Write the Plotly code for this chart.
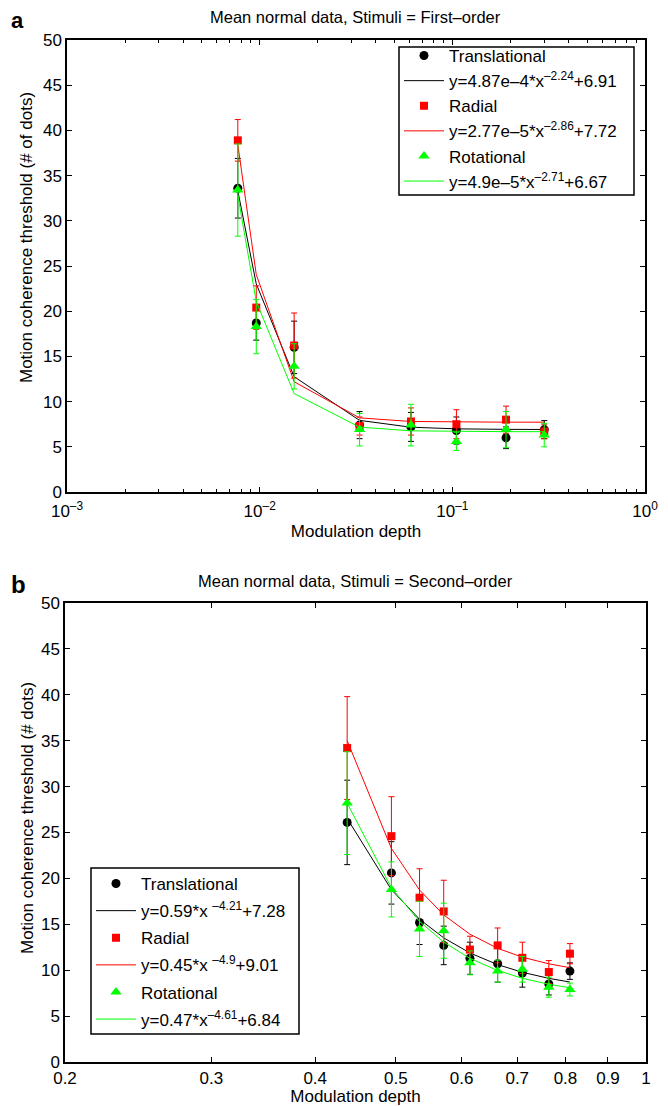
import plotly.graph_objects as go

# ---------------- Panel a: first-order ----------------
xa = [0.0077, 0.0096, 0.0151, 0.033, 0.061, 0.105, 0.19, 0.30]
a_trans = [33.6, 18.7, 16.0, 7.4, 7.2, 6.8, 6.0, 6.9]
a_trans_err = [3.3, 1.9, 2.9, 1.5, 1.6, 1.5, 1.2, 1.0]
a_rad = [38.9, 20.4, 16.2, 7.3, 7.8, 7.5, 8.0, 6.7]
a_rad_err = [2.3, 2.4, 3.6, 1.0, 1.5, 1.6, 1.5, 0.8]
a_rot = [33.4, 18.3, 13.9, 6.9, 7.4, 5.6, 6.9, 6.3]
a_rot_err = [5.1, 3.0, 2.5, 1.8, 2.3, 1.0, 2.0, 1.3]
# fit parameters y = p*x^q + r (from legend)
a_fit_trans = (4.87e-4, -2.24, 6.91)
a_fit_rad = (2.77e-5, -2.86, 7.72)
a_fit_rot = (4.9e-5, -2.71, 6.67)
a_fit_labels = ["y=4.87e–4*x<sup>–2.24</sup>+6.91",
                "y=2.77e–5*x<sup>–2.86</sup>+7.72",
                "y=4.9e–5*x<sup>–2.71</sup>+6.67"]
a_xticks = [0.001, 0.01, 0.1, 1]
a_xticktext = ["10<sup>–3</sup>", "10<sup>–2</sup>", "10<sup>–1</sup>", "10<sup>0</sup>"]
a_minor = [k * 10.0 ** e for e in (-3, -2, -1) for k in range(2, 10)]

# ---------------- Panel b: second-order ----------------
xb = [0.437, 0.494, 0.534, 0.571, 0.614, 0.663, 0.710, 0.764, 0.810]
b_trans = [26.1, 20.6, 15.2, 12.7, 11.3, 10.7, 9.7, 8.5, 9.9]
b_trans_err = [4.6, 3.4, 2.4, 2.1, 1.75, 2.0, 1.55, 1.2, 0.9]
b_rad = [34.2, 24.6, 17.9, 16.4, 12.25, 12.7, 11.35, 9.8, 11.8]
b_rad_err = [5.6, 4.3, 3.15, 3.4, 1.45, 1.9, 1.7, 1.25, 1.1]
b_rot = [28.2, 18.8, 14.5, 14.3, 10.8, 9.9, 10.1, 8.15, 7.9]
b_rot_err = [5.6, 3.0, 3.0, 3.0, 1.3, 1.2, 1.4, 1.1, 0.7]
b_fit_trans = (0.59, -4.21, 7.28)
b_fit_rad = (0.45, -4.9, 9.01)
b_fit_rot = (0.47, -4.61, 6.84)
b_fit_labels = ["y=0.59*x <sup>–4.21</sup>+7.28",
                "y=0.45*x <sup>–4.9</sup>+9.01",
                "y=0.47*x<sup>–4.61</sup>+6.84"]
b_xticks = [0.2, 0.3, 0.4, 0.5, 0.6, 0.7, 0.8, 0.9, 1]
b_xticktext = ["0.2", "0.3", "0.4", "0.5", "0.6", "0.7", "0.8", "0.9", "1"]

y_ticks = [0, 5, 10, 15, 20, 25, 30, 35, 40, 45, 50]
series_names = ["Translational", "Radial", "Rotational"]
colors = ["#000000", "#ff0000", "#00ff00"]
symbols = ["circle", "square", "triangle-up"]
msizes = [9, 8, 10]

FONT = "Liberation Sans, Arial, Helvetica, sans-serif"

# page has an 8px body margin; lay out in page pixels
OFF = 8
FW, FH = 668 - OFF, 1106 - OFF


def px(x):
    return (x - OFF) / FW


def py(y):
    return 1 - (y - OFF) / FH


def fit_curve(xs, p):
    return [p[0] * x ** p[1] + p[2] for x in xs]


fig = go.Figure()


def add_panel(xs, vals, errs, fits, labels, xref, yref, legend, tag):
    for i in range(3):
        fig.add_trace(go.Scatter(
            x=xs, y=vals[i], mode="markers", name=series_names[i],
            xaxis=xref, yaxis=yref, legend=legend, legendgroup=f"{tag}m{i}",
            marker=dict(color=colors[i], symbol=symbols[i], size=msizes[i],
                        line=dict(width=0)),
            error_y=dict(type="data", array=errs[i], visible=True,
                         color=colors[i], thickness=1, width=3),
        ))
        fig.add_trace(go.Scatter(
            x=xs, y=fit_curve(xs, fits[i]), mode="lines", name=labels[i],
            xaxis=xref, yaxis=yref, legend=legend, legendgroup=f"{tag}f{i}",
            line=dict(color=colors[i], width=1),
        ))


add_panel(xa, [a_trans, a_rad, a_rot], [a_trans_err, a_rad_err, a_rot_err],
          [a_fit_trans, a_fit_rad, a_fit_rot], a_fit_labels, "x", "y", "legend", "a")
add_panel(xb, [b_trans, b_rad, b_rot], [b_trans_err, b_rad_err, b_rot_err],
          [b_fit_trans, b_fit_rad, b_fit_rot], b_fit_labels, "x2", "y2", "legend2", "b")

axis_common = dict(showline=True, linecolor="black", linewidth=1.5, mirror="allticks",
                   ticks="inside", ticklen=5, tickcolor="black", showgrid=False,
                   zeroline=False, tickfont=dict(size=17, color="black", family=FONT),
                   automargin=False)

legend_common = dict(xanchor="left", yanchor="top", borderwidth=0,
                     bgcolor="rgba(0,0,0,0)", font=dict(size=17, family=FONT, color="black"),
                     itemwidth=40, traceorder="grouped")


def box(x0, y0, x1, y1):
    return dict(type="rect", xref="paper", yref="paper", x0=px(x0), x1=px(x1),
                y0=py(y1), y1=py(y0), line=dict(color="black", width=1.5),
                fillcolor="white", layer="above")


fig.update_layout(
    width=FW, height=FH,
    margin=dict(l=0, r=0, t=0, b=0),
    paper_bgcolor="white", plot_bgcolor="white",
    font=dict(family=FONT, color="black", size=17),
    showlegend=True,
    xaxis=dict(type="log", domain=[px(67), px(645)], range=[-3, 0], anchor="y",
               tickvals=a_xticks, ticktext=a_xticktext, ticklabelstandoff=3,
               minor=dict(tickvals=a_minor, ticks="inside", ticklen=3,
                          tickcolor="black", showgrid=False),
               title=dict(text="Modulation depth", font=dict(size=17), standoff=5),
               **axis_common),
    yaxis=dict(domain=[py(492), py(40)], range=[0, 50], anchor="x", tickvals=y_ticks,
               **axis_common),
    xaxis2=dict(type="log", domain=[px(65), px(646)], range=[0.30103 - 1, 0], anchor="y2",
                tickvals=b_xticks, ticktext=b_xticktext,
                title=dict(text="Modulation depth", font=dict(size=17), standoff=2),
                **axis_common),
    yaxis2=dict(domain=[py(1062), py(603)], range=[0, 50], anchor="x2", tickvals=y_ticks,
                **axis_common),
    legend=dict(x=px(399), y=py(38), tracegroupgap=0, **legend_common),
    legend2=dict(x=px(91), y=py(866), tracegroupgap=2, **legend_common),
    shapes=[box(399, 47, 634, 195), box(91, 868, 299, 1034)],
    annotations=[
        dict(text="Mean normal data, Stimuli = First–order", x=px(356), y=py(17),
             xref="paper", yref="paper", showarrow=False, font=dict(size=16.5),
             xanchor="center", yanchor="middle"),
        dict(text="Mean normal data, Stimuli = Second–order", x=px(356), y=py(581),
             xref="paper", yref="paper", showarrow=False, font=dict(size=16.5),
             xanchor="center", yanchor="middle"),
        dict(text="Motion coherence threshold (# of dots)", x=px(27), y=py(238),
             xref="paper", yref="paper", showarrow=False, font=dict(size=17),
             textangle=-90, xanchor="center", yanchor="middle"),
        dict(text="Motion coherence threshold (# dots)", x=px(27), y=py(818),
             xref="paper", yref="paper", showarrow=False, font=dict(size=17),
             textangle=-90, xanchor="center", yanchor="middle"),
        dict(text="<b>a</b>", x=px(9), y=py(21), xref="paper", yref="paper",
             showarrow=False, font=dict(size=22), xanchor="left", yanchor="middle"),
        dict(text="<b>b</b>", x=px(9), y=py(584), xref="paper", yref="paper",
             showarrow=False, font=dict(size=24), xanchor="left", yanchor="middle"),
    ],
)

fig.write_html("out.html")
